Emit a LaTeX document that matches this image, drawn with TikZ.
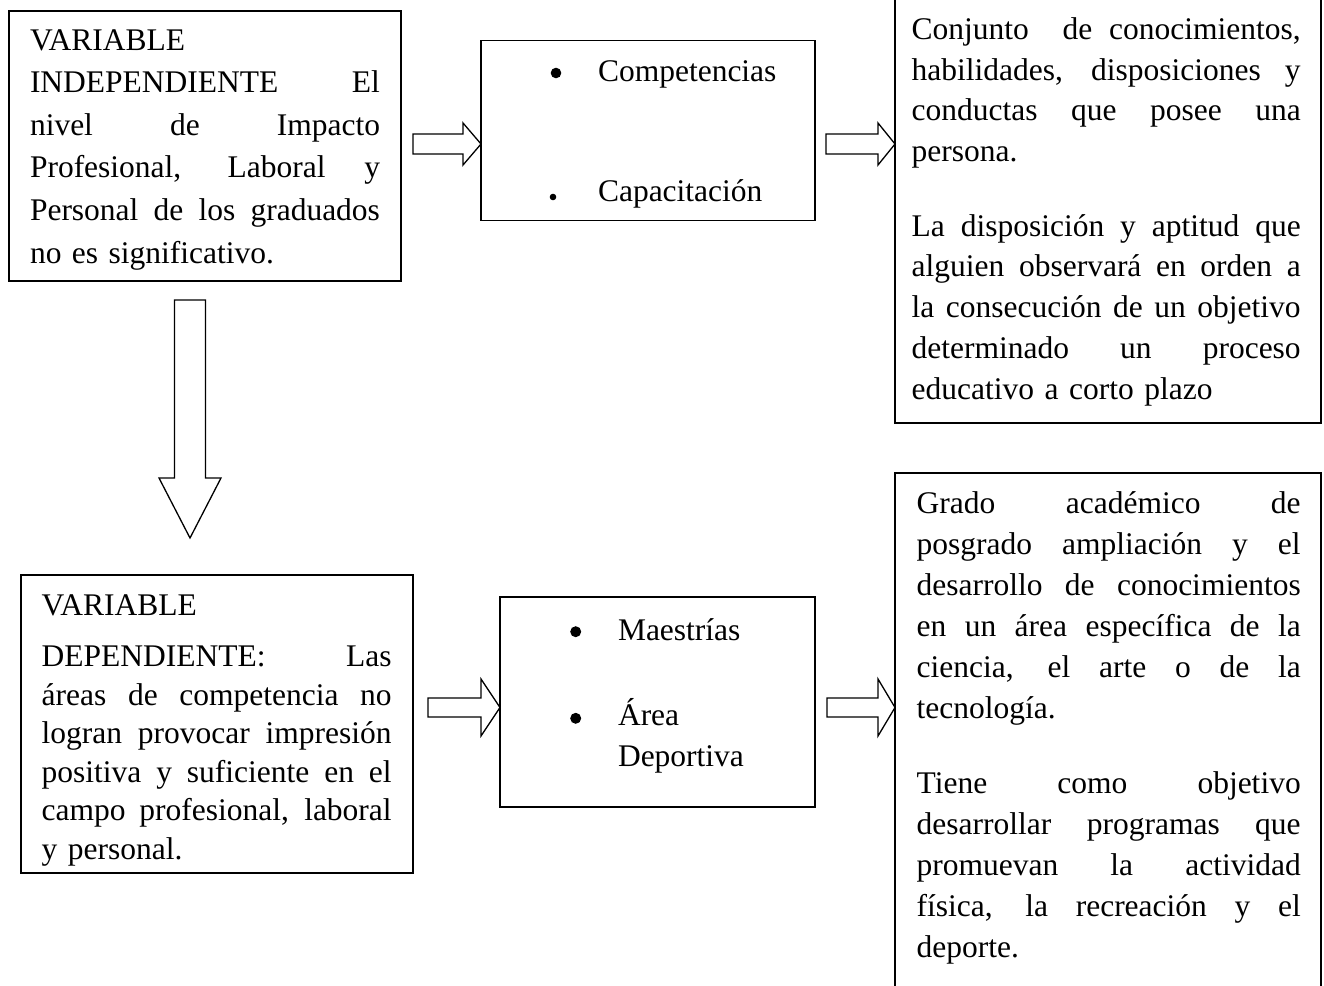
\documentclass[tikz,border=0pt]{standalone}
\usepackage{fontspec}
\setmainfont{Liberation Serif}
\usetikzlibrary{calc}
\setlength\parindent{0pt}
\newcommand\jline[2]{\leavevmode\hbox to #1{\spaceskip=.25em plus 1fil\relax #2}}
\newcommand\ja[1]{\jline{350pt}{#1}}
\newcommand\jb[1]{\jline{389pt}{#1}}
\newcommand\jc[1]{\jline{384pt}{#1}}
\newcommand\dsp{\hskip .5em plus 2fil\relax}
\newcommand\fstrut{\rule{0pt}{32pt}}
\newcommand\hblockarrow[5]{%
  \draw[blockarrow] let \p1=(#1), \p2=(#2) in
   (\x1,\y1+#3) -- (\x2-#5,\y1+#3) -- (\x2-#5,\y1+#4) -- (\x2,\y1)
   -- (\x2-#5,\y1-#4) -- (\x2-#5,\y1-#3) -- (\x1,\y1-#3) -- cycle;}
\begin{document}
\begin{tikzpicture}[x=1pt,y=-1pt,
  box/.style={draw, line width=1.8pt, inner sep=0pt, outer sep=0pt, anchor=north west},
  txt/.style={inner sep=0pt, outer sep=0pt, anchor=north west, align=left,
              font=\fontsize{31.5}{#1}\selectfont},
  item/.style={inner sep=0pt, outer sep=0pt, anchor=base west,
               font=\fontsize{31.5}{38}\selectfont},
  blockarrow/.style={draw, fill=white, line width=1.3pt, line join=miter}]
\useasboundingbox (0,0) rectangle (1324,985);
\fill[white] (0,0) rectangle (1324,985);
\clip (0,0) rectangle (1324,985);

% boxes
\node[box, minimum width=392pt, minimum height=270pt] (b1) at (9,11) {};
\node[box, minimum width=334pt, minimum height=180pt] (b2) at (481,40.5) {};
\node[box, minimum width=426pt, minimum height=428pt] (b3) at (895,-5) {};
\node[box, minimum width=392pt, minimum height=298pt] (b4) at (21,575) {};
\node[box, minimum width=315pt, minimum height=210pt] (b5) at (500,597) {};
\node[box, minimum width=426pt, minimum height=522pt] (b6) at (895,473) {};

% texts
\node[txt=42.65, text width=350pt] (t1) at (30,18)
 {\fstrut VARIABLE\\ \ja{INDEPENDIENTE El}\\ \ja{nivel de Impacto}\\
  \ja{Profesional, Laboral y}\\ \ja{Personal de los graduados}\\
  no es significativo.};

\node[item] (c1) at (598,81.7) {Competencias};
\node[item] (c2) at (598,201.7) {Capacitación};
\fill (556,73) circle[radius=5.3pt];
\fill (553,197) circle[radius=3.3pt];

\node[txt=40.8, text width=389pt] (t3) at (911.7,7.3)
 {\fstrut\jb{Conjunto\dsp de conocimientos,}\\ \jb{habilidades, disposiciones y}\\
  \jb{conductas que posee una}\\ persona.\\[33.5pt]
  \jb{La disposición y aptitud que}\\ \jb{alguien observará en orden a}\\
  \jb{la consecución de un objetivo}\\ \jb{determinado un proceso}\\
  educativo a corto plazo};

\node[txt=38.5, text width=350pt] (t4) at (41.7,583)
 {\fstrut VARIABLE\\[13pt] \ja{DEPENDIENTE: Las}\\ \ja{áreas de competencia no}\\
  \ja{logran provocar impresión}\\ \ja{positiva y suficiente en el}\\
  \ja{campo profesional, laboral}\\ y personal.};

\node[item] (m1) at (618,640) {Maestrías};
\node[item] (m2) at (618,725) {Área};
\node[item] (m3) at (618,766.7) {Deportiva};
\fill (575.7,631.7) circle[radius=5.5pt];
\fill (575.7,718.3) circle[radius=5.5pt];

\node[txt=41, text width=384pt] (t6) at (916.7,481)
 {\fstrut\jc{Grado académico de}\\ \jc{posgrado ampliación y el}\\
  \jc{desarrollo de conocimientos}\\ \jc{en un área específica de la}\\
  \jc{ciencia, el arte o de la}\\ tecnología.\\[34pt]
  \jc{Tiene como objetivo}\\ \jc{desarrollar programas que}\\
  \jc{promuevan la actividad}\\ \jc{física, la recreación y el}\\ deporte.};

% block arrows
\coordinate (a1s) at (413,144);
\coordinate (a1t) at (b2.west |- a1s);
\hblockarrow{a1s}{a1t}{10pt}{21pt}{18pt}
\coordinate (a2s) at (826,144);
\coordinate (a2t) at (b3.west |- a2s);
\hblockarrow{a2s}{a2t}{10pt}{21pt}{17pt}
\coordinate (a3s) at (428,707.5);
\coordinate (a3t) at (b5.west |- a3s);
\hblockarrow{a3s}{a3t}{9.5pt}{28.5pt}{19pt}
\coordinate (a4s) at (827,707.5);
\coordinate (a4t) at (b6.west |- a4s);
\hblockarrow{a4s}{a4t}{9.5pt}{28.5pt}{17pt}

\coordinate (ds) at (190,300);
\coordinate (dt) at (190,538);
\draw[blockarrow] let \p1=(ds), \p2=(dt) in
  (\x1-15.5pt,\y1) -- (\x1-15.5pt,\y2+60pt) -- (\x1-31pt,\y2+60pt) -- (\x2,\y2)
  -- (\x1+31pt,\y2+60pt) -- (\x1+15.5pt,\y2+60pt) -- (\x1+15.5pt,\y1) -- cycle;
\end{tikzpicture}
\end{document}
